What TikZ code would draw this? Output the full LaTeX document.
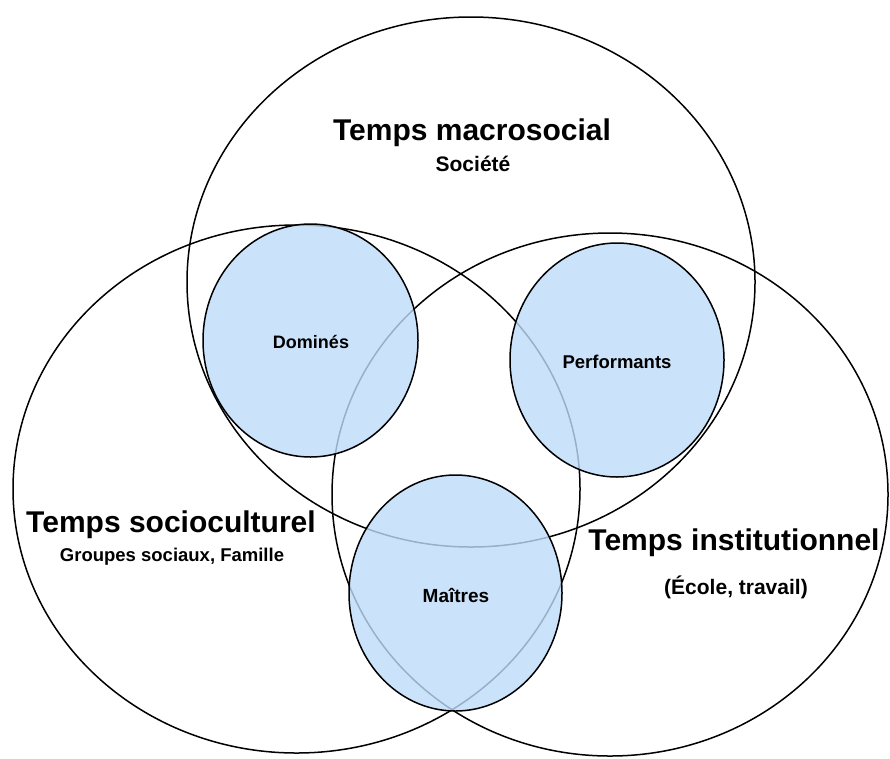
\documentclass[tikz,border=0pt]{standalone}
\usepackage{fontspec}
\setmainfont{Liberation Sans}
\usetikzlibrary{shapes.geometric}
\definecolor{smallfill}{RGB}{191,221,249}
\tikzset{
  bigset/.style={ellipse, draw=black, line width=1.5pt, inner sep=0pt},
  smallset/.style={ellipse, draw=black, line width=1.5pt, inner sep=0pt, fill=smallfill, fill opacity=0.8, draw opacity=1},
  lbl/.style={font=\bfseries, inner sep=0pt, text=black, text opacity=1},
}
\begin{document}
\begin{tikzpicture}[x=1pt,y=-1pt]
\useasboundingbox[fill=white] (0,0) rectangle (890,758);
% big sets
\node[bigset, minimum width=568pt, minimum height=530pt] (macro) at (471,282) {};
\node[bigset, minimum width=567pt, minimum height=528pt] (socio) at (296.5,489) {};
\node[bigset, minimum width=556pt, minimum height=523pt] (inst) at (610,494.5) {};
% small sets
\node[smallset, minimum width=215pt, minimum height=233pt] (domines) at (310.5,340.5) {};
\node[smallset, minimum width=214pt, minimum height=234pt] (perf) at (617,360) {};
\node[smallset, minimum width=213pt, minimum height=236pt] (maitres) at (455.5,593) {};
% labels
\node[lbl, font=\fontsize{30}{34}\selectfont\bfseries] (tmacro) at (472,133) {Temps macrosocial};
\node[lbl, font=\fontsize{21}{24}\selectfont\bfseries] (soc) at (473,164) {Société};
\node[lbl, font=\fontsize{18}{20}\selectfont\bfseries] (tdom) at (311,342) {Dominés};
\node[lbl, font=\fontsize{18.5}{20}\selectfont\bfseries] (tperf) at (617,362) {Performants};
\node[lbl, font=\fontsize{19}{20}\selectfont\bfseries] (tmait) at (456,595) {Maîtres};
\node[lbl, font=\fontsize{30}{34}\selectfont\bfseries] (tsocio) at (171,525) {Temps socioculturel};
\node[lbl, font=\fontsize{18.5}{20}\selectfont\bfseries] (grp) at (172,557) {Groupes sociaux, Famille};
\node[lbl, font=\fontsize{30}{34}\selectfont\bfseries] (tinst) at (734,543) {Temps institutionnel};
\node[lbl, font=\fontsize{21}{24}\selectfont\bfseries] (ecole) at (736,587) {(École, travail)};
\end{tikzpicture}
\end{document}
